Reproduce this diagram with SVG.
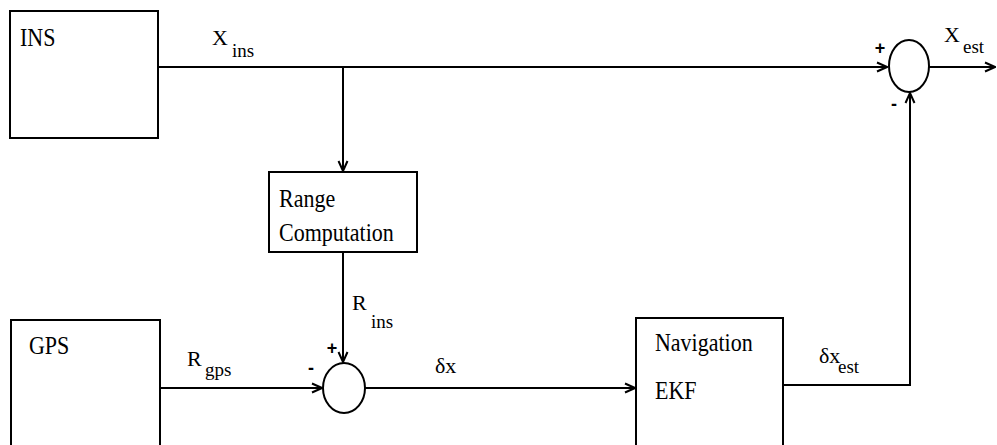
<svg xmlns="http://www.w3.org/2000/svg" width="997" height="445" viewBox="0 0 997 445">
<style>
.box{fill:#fff;stroke:#000;stroke-width:2}
.sum{fill:#fff;stroke:#000;stroke-width:2}
.ln{fill:none;stroke:#000;stroke-width:2}
.t{font-family:"Liberation Serif","Times New Roman","DejaVu Serif",serif;font-size:22px;fill:#000}
.s{font-family:"Liberation Serif","Times New Roman","DejaVu Serif",serif;font-size:19px;fill:#000}
.pm{font-family:"Liberation Sans",Arial,sans-serif;font-size:18px;font-weight:bold;fill:#000}
</style>
<defs>
<marker id="ah" viewBox="0 0 12 12" refX="11" refY="6" markerWidth="12" markerHeight="12" markerUnits="userSpaceOnUse" orient="auto">
<polyline points="1,1.5 11,6 1,10.5" fill="none" stroke="#000" stroke-width="2"/>
</marker>
</defs>
<g id="connectors">
<line class="ln" x1="158" y1="67" x2="887" y2="67" marker-end="url(#ah)"/>
<line class="ln" x1="343" y1="67" x2="343" y2="171" marker-end="url(#ah)"/>
<line class="ln" x1="929" y1="67" x2="995" y2="67" marker-end="url(#ah)"/>
<line class="ln" x1="343" y1="252" x2="343" y2="362" marker-end="url(#ah)"/>
<line class="ln" x1="160" y1="388" x2="322" y2="388" marker-end="url(#ah)"/>
<line class="ln" x1="365" y1="388" x2="635" y2="388" marker-end="url(#ah)"/>
<polyline class="ln" points="783,385 910,385 910,93" marker-end="url(#ah)"/>
</g>
<g id="ins">
<rect class="box" x="10" y="11" width="148" height="127"/>
<text class="t" x="20" y="46" transform="translate(0,-7) scale(1,1.15)">INS</text>
</g>
<g id="gps">
<rect class="box" x="11" y="320" width="149" height="130"/>
<text class="t" x="29" y="354" transform="translate(0,-53) scale(1,1.15)">GPS</text>
</g>
<g id="range">
<rect class="box" x="269" y="172" width="148" height="80"/>
<text class="t" x="279" y="207" transform="translate(0,-31) scale(1,1.15)">Range</text>
<text class="t" x="279" y="241" transform="translate(0,-36) scale(1,1.15)">Computation</text>
</g>
<g id="ekf">
<rect class="box" x="636" y="318" width="147" height="130"/>
<text class="t" x="655" y="351" transform="translate(0,-53) scale(1,1.15)">Navigation</text>
<text class="t" x="655" y="399" transform="translate(0,-60) scale(1,1.15)">EKF</text>
</g>
<g id="sum1">
<ellipse class="sum" cx="909" cy="66" rx="20" ry="26"/>
<text class="pm" x="880" y="54" text-anchor="middle">+</text>
<text class="pm" x="894" y="110" text-anchor="middle">-</text>
</g>
<g id="sum2">
<ellipse class="sum" cx="344" cy="388" rx="21" ry="25"/>
<text class="pm" x="332" y="354" text-anchor="middle">+</text>
<text class="pm" x="311" y="374" text-anchor="middle">-</text>
</g>
<g id="labels">
<text class="t" x="212" y="45">X</text><text class="s" x="232" y="57">ins</text>
<text class="t" x="944" y="42">X</text><text class="s" x="963" y="53">est</text>
<text class="t" x="352" y="310">R</text><text class="s" x="371" y="328">ins</text>
<text class="t" x="187" y="366">R</text><text class="s" x="205" y="376">gps</text>
<text class="t" x="435" y="373">δx</text>
<text class="t" x="819" y="363">δx</text><text class="s" x="838" y="373">est</text>
</g>
</svg>
